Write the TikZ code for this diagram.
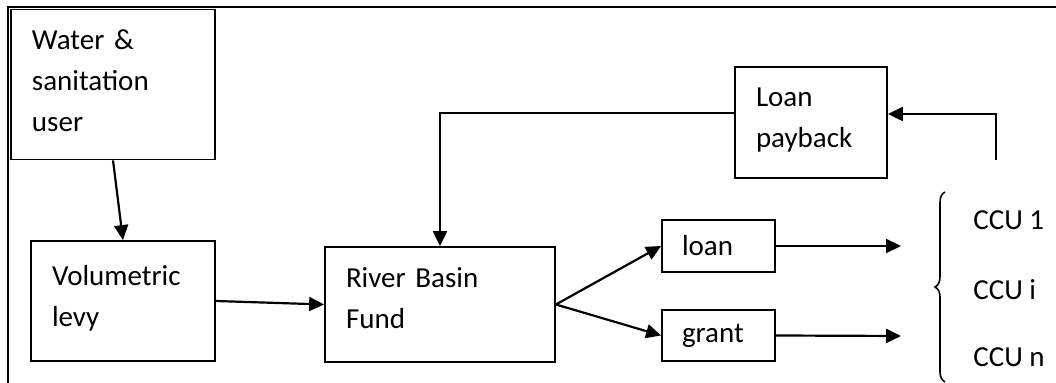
\documentclass[tikz,border=0pt]{standalone}
\usepackage{fontspec}
\setmainfont{Carlito}
\usetikzlibrary{arrows.meta,positioning,calc,decorations.pathreplacing}

\begin{document}
\begin{tikzpicture}[
  x=0.5pt, y=-0.5pt,
  font=\fontsize{14.5}{20.5}\selectfont,
  % ---- Node styles ----
  box/.style={draw, line width=0.9pt, align=left, inner xsep=10.5pt, inner ysep=0pt},
  smallbox/.style={box, inner xsep=10pt, text width=36.5pt},
  ccu/.style={anchor=west, inner sep=0pt},
  % ---- Lines ----
  line/.style={-{Triangle[length=7.5pt,width=7pt]}, line width=1.1pt},
  % ---- Braces ----
  brace/.style={decorate, decoration={brace, amplitude=5pt}, line width=0.8pt}
]

% ===== Page and frame (frame runs off right and bottom) =====
\path[use as bounding box, clip] (0,0) rectangle (1056,383);
\draw[line width=0.9pt] (8,7) rectangle (1080,400);

% ===== Boxes (x, y in px of the reference) =====
\node[box, text width=81pt, minimum height=75pt, text depth=45pt]   (water)   at (113,84.5)  {Water \&\\sanitation\\user};
\node[box, text width=71pt, minimum height=60pt, text depth=26pt]   (vol)     at (123,301)   {Volumetric\\levy};
\node[box, text width=94pt, minimum height=57.5pt, text depth=27pt] (river)   at (440,304.5) {River Basin\\Fund};
\node[box, text width=55pt, minimum height=55.5pt, text depth=25pt] (payback) at (811,122.5) {Loan\\payback};
\node[smallbox, minimum height=26pt]   (loan)  at (718.5,246)   {loan};
\node[smallbox, minimum height=25.5pt] (grant) at (718.5,335.5) {grant};

% ===== Receiving units =====
\node[ccu] (ccu1) at (973,220) {CCU 1};
\node[ccu] (ccui) at (973,290) {CCU i};
\node[ccu] (ccun) at (973,357) {CCU n};

% free ends
\coordinate (loanend)  at (901,246);
\coordinate (grantend) at (901,336);
\coordinate (ccuback)  at (996,160);

% ===== Connections =====
\draw[line] (water.south) -- (vol.north);
\draw[line] (vol.east) -- (river.west);
\draw[line] (river.east) -- (loan.west);
\draw[line] (river.east) -- (grant.west);
\draw[line] (loan.east) -- (loanend);
\draw[line] (grant.east) -- (grantend);

% payback loop
\draw[line] ([yshift=4.75pt]payback.west) -| (river.north);
\draw[line] (ccuback) |- ([yshift=4.25pt]payback.east);

% ===== Brace round the CCUs =====
\draw[brace] (945,382) -- (945,192);

\end{tikzpicture}
\end{document}
